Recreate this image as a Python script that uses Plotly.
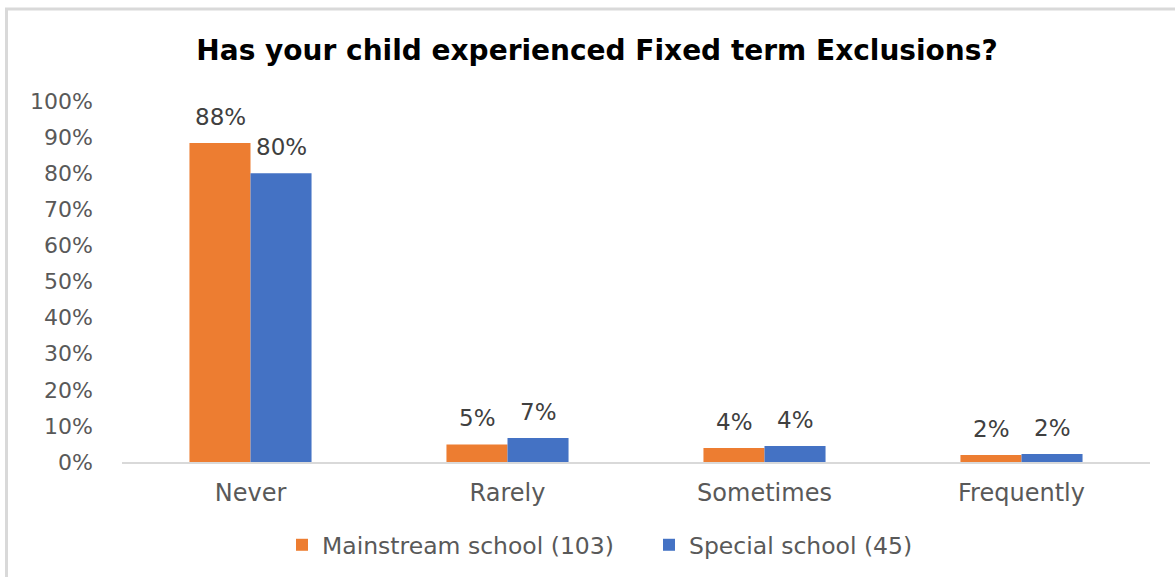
import plotly.graph_objects as go

# Survey responses: share of children with fixed-term exclusions, by frequency
categories = ["Never", "Rarely", "Sometimes", "Frequently"]
mainstream_counts = [91, 5, 4, 2]      # of 103 respondents
special_counts = [36, 3, 2, 1]         # of 45 respondents
mainstream_n = 103
special_n = 45
series_names = ["Mainstream school (103)", "Special school (45)"]
y_ticks = [0, 0.1, 0.2, 0.3, 0.4, 0.5, 0.6, 0.7, 0.8, 0.9, 1.0]

mainstream_share = [c / mainstream_n for c in mainstream_counts]
special_share = [c / special_n for c in special_counts]

ORANGE = "#ED7D31"
BLUE = "#4472C4"
FONT = "DejaVu Sans, Verdana, sans-serif"

W, H = 1175, 577
L, R, T, B = 122, 25, 101, 115
pw, ph = W - L - R, H - T - B
BAR_PX = 61  # width of one bar in pixels

fig = go.Figure()
for name, vals, col in [(series_names[0], mainstream_share, ORANGE),
                        (series_names[1], special_share, BLUE)]:
    fig.add_trace(go.Bar(
        x=categories, y=vals, name=name,
        marker=dict(color=col, line=dict(width=0)),
        hoverinfo="x+y+name",
    ))

# value labels above each bar, drawn from the same shares as the bars
for vals, shift in [(mainstream_share, -BAR_PX / 2), (special_share, BAR_PX / 2)]:
    for cat, v in zip(categories, vals):
        fig.add_annotation(
            x=cat, y=v, xref="x", yref="y", text=f"{v:.0%}", showarrow=False,
            xanchor="center", yanchor="bottom", xshift=shift, yshift=11,
            font=dict(size=23, color="#404040", family=FONT),
        )

# light grey frame on the left and top edges of the chart
def px_x(x):
    return (x - L) / pw
def px_y(y):
    return (H - B - y) / ph

fig.add_shape(type="line", xref="paper", yref="paper",
              x0=px_x(6.5), x1=px_x(6.5), y0=px_y(9), y1=px_y(H + 5),
              line=dict(color="#D9D9D9", width=3))
fig.add_shape(type="line", xref="paper", yref="paper",
              x0=px_x(5), x1=px_x(W + 5), y0=px_y(9), y1=px_y(9),
              line=dict(color="#D9D9D9", width=3))

fig.update_layout(
    width=W, height=H,
    margin=dict(l=L, r=R, t=T, b=B, autoexpand=False),
    paper_bgcolor="white", plot_bgcolor="white",
    barmode="group", bargap=0.525, bargroupgap=0,
    title=dict(text="<b>Has your child experienced Fixed term Exclusions?</b>",
               x=597 / W, xanchor="center", y=1 - 50 / H, yanchor="middle",
               font=dict(size=28, color="#000000", family=FONT)),
    font=dict(family=FONT, color="#595959"),
    showlegend=True,
    legend=dict(orientation="h", x=px_x(282), xanchor="left",
                y=px_y(545), yanchor="middle",
                font=dict(size=23.5, color="#595959", family=FONT),
                itemwidth=30, entrywidth=322, entrywidthmode="pixels",
                traceorder="normal"),
    xaxis=dict(showline=True, linecolor="#D9D9D9", linewidth=2, ticks="",
               tickfont=dict(size=24, color="#595959", family=FONT),
               showgrid=False, ticklabelstandoff=8),
    yaxis=dict(range=[0, 1], tickvals=y_ticks, tickformat=".0%",
               showgrid=False, zeroline=False, showline=False, ticks="",
               tickfont=dict(size=22, color="#595959", family=FONT),
               ticklabelstandoff=28),
)

fig.write_html("out.html")
